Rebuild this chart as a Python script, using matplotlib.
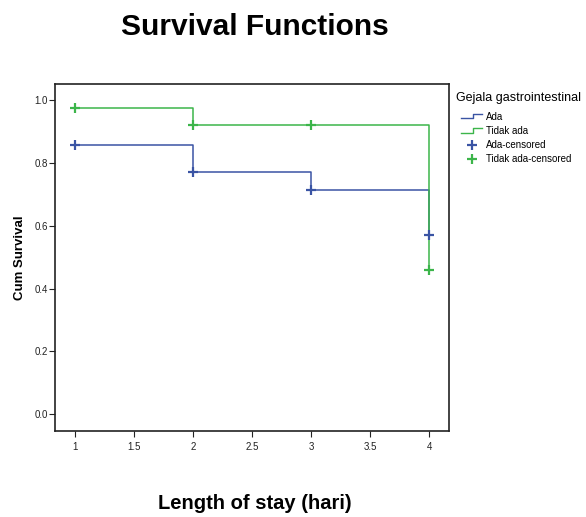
import matplotlib
matplotlib.use("Agg")
import matplotlib.pyplot as plt
from matplotlib.lines import Line2D
from matplotlib.legend_handler import HandlerBase

plt.rcParams['font.family'] = ['Liberation Sans', 'DejaVu Sans']

# data
days = [1, 2, 3, 4]
surv_ada = [0.857, 0.771, 0.714, 0.571]
surv_tidak = [0.975, 0.920, 0.920, 0.460]
groups = ["Ada", "Tidak ada"]
colors = {"Ada": "#3a54a4", "Tidak ada": "#3cb54a"}
x_ticks = [1, 1.5, 2, 2.5, 3, 3.5, 4]
x_tick_labels = ["1", "1.5", "2", "2.5", "3", "3.5", "4"]
y_ticks = [0.0, 0.2, 0.4, 0.6, 0.8, 1.0]


class StepHandler(HandlerBase):
    # draws the little step icon used in the legend
    def create_artists(self, legend, orig_handle, xdescent, ydescent,
                       width, height, fontsize, trans):
        w = width
        h = height
        xs = [0, w * 0.55, w * 0.55, w]
        ys = [h * 0.2, h * 0.2, h * 0.9, h * 0.9]
        ln = Line2D(xs, ys, color=orig_handle.get_color(), lw=1.0,
                    transform=trans)
        return [ln]


fig = plt.figure(figsize=(5.86, 5.17), dpi=100)
ax = fig.add_axes([0.0939, 0.166, 0.673, 0.671])

series = {"Ada": surv_ada, "Tidak ada": surv_tidak}
handles = []
for g in groups:
    s = series[g]
    # step lines: hold the value until the next day then drop
    xs = []
    ys = []
    for i in range(len(days)):
        if i > 0:
            xs.append(days[i])
            ys.append(s[i - 1])
        xs.append(days[i])
        ys.append(s[i])
    ln, = ax.plot(xs, ys, color=colors[g], lw=1.1)
    handles.append(ln)

cens = []
for g in groups:
    m, = ax.plot(days, series[g], linestyle="none", marker="+",
                 markersize=7, markeredgewidth=1.6, color=colors[g])
    cens.append(m)

ax.set_xlim(0.831, 4.169)
ax.set_ylim(-0.054, 1.051)
ax.set_xticks(x_ticks)
ax.set_xticklabels(x_tick_labels)
ax.set_yticks(y_ticks)
ax.set_yticklabels(["%.1f" % v for v in y_ticks])
ax.tick_params(labelsize=7, length=4, width=0.8, colors="#222222")
ax.tick_params(axis="x", pad=4)
ax.tick_params(axis="y", pad=1)
for sp in ax.spines.values():
    sp.set_linewidth(1.2)
    sp.set_color("#222222")

ax.set_ylabel("Cum Survival", fontsize=9.5, fontweight="bold", labelpad=6.5)
fig.text(0.4345, 0.027, "Length of stay (hari)", fontsize=14.5,
         fontweight="bold", ha="center", va="center")
fig.text(0.435, 0.947, "Survival Functions", fontsize=21.5,
         fontweight="bold", ha="center", va="center")

leg = fig.legend(handles + cens,
                 groups + [g + "-censored" for g in groups],
                 handler_map={handles[0]: StepHandler(),
                              handles[1]: StepHandler()},
                 loc="upper left", bbox_to_anchor=(0.772, 0.830),
                 frameon=False, fontsize=7, title="Gejala gastrointestinal",
                 title_fontsize=9, handlelength=2.2, handletextpad=0.4,
                 labelspacing=0.43, borderaxespad=0)
leg._legend_box.align = "left"
# indent the entries a little under the title, like the original
leg._legend_handle_box.pad = 3.4
leg._legend_box.sep = 2.4

fig.savefig("out.png", dpi=100)
